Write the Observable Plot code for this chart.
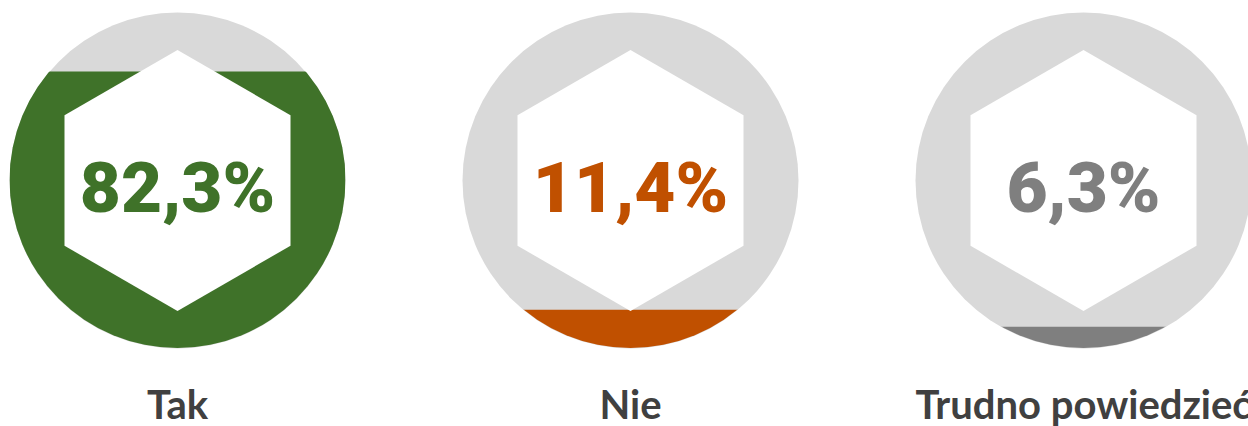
<!DOCTYPE html>
<html>
<head>
<meta charset="utf-8">
<script src="https://cdn.jsdelivr.net/npm/d3@7"></script>
<script src="https://cdn.jsdelivr.net/npm/@observablehq/plot@0.6"></script>
<style>
  html, body { margin: 0; padding: 0; background: #fff; overflow: hidden; }
</style>
</head>
<body>
<div id="chart"></div>
<script>
const categories = ["Tak", "Nie", "Trudno powiedzieć"];
const values = [82.3, 11.4, 6.3];
const valueLabels = ["82,3%", "11,4%", "6,3%"];
const colors = ["#3f7229", "#c05000", "#7f7f7f"];

const data = categories.map((c, i) => ({category: c, value: values[i], label: valueLabels[i]}));

const R = 168;      // circle radius (px)
const HEX = 113;    // hexagon half-width (px)

const plot = Plot.plot({
  width: 1248,
  height: 426,
  margin: 0,
  style: {background: "#fff"},
  x: {type: "point", domain: categories, range: [177, 1083], padding: 0, axis: null},
  y: {domain: [0, 100], range: [348, 12], axis: null},
  color: {domain: categories, range: colors},
  marks: [
    Plot.dot(data, {x: "category", y: 50, r: R, fill: "#d9d9d9", stroke: null}),
    Plot.ruleX(data, {x: "category", y1: 0, y2: "value", stroke: "category", strokeWidth: 2 * R, strokeLinecap: "butt"}),
    Plot.dot(data, {x: "category", y: 50, r: HEX, symbol: "hexagon", fill: "#fff", stroke: null}),
    Plot.text(data, {x: "category", y: 50, text: "label", fill: "category", fontSize: 71, fontWeight: 900, fontFamily: "Roboto, sans-serif", dy: 9}),
    Plot.text(data, {x: "category", y: 0, text: "category", fill: "#404040", fontSize: 40, fontWeight: 700, fontFamily: "Lato, sans-serif", dy: 58})
  ]
});

// clip each fill to its circle
const svg = d3.select(plot);
const defs = svg.insert("defs", ":first-child");
const xs = plot.scale("x"), ys = plot.scale("y");
data.forEach((d, i) => {
  defs.append("clipPath").attr("id", "clip" + i)
    .append("circle")
    .attr("cx", xs.apply(d.category))
    .attr("cy", ys.apply(50))
    .attr("r", R);
});
svg.selectAll("g[aria-label='rule'] line").each(function(d, i) {
  d3.select(this).attr("clip-path", `url(#clip${i})`);
});

document.getElementById("chart").appendChild(plot);
</script>
</body>
</html>
